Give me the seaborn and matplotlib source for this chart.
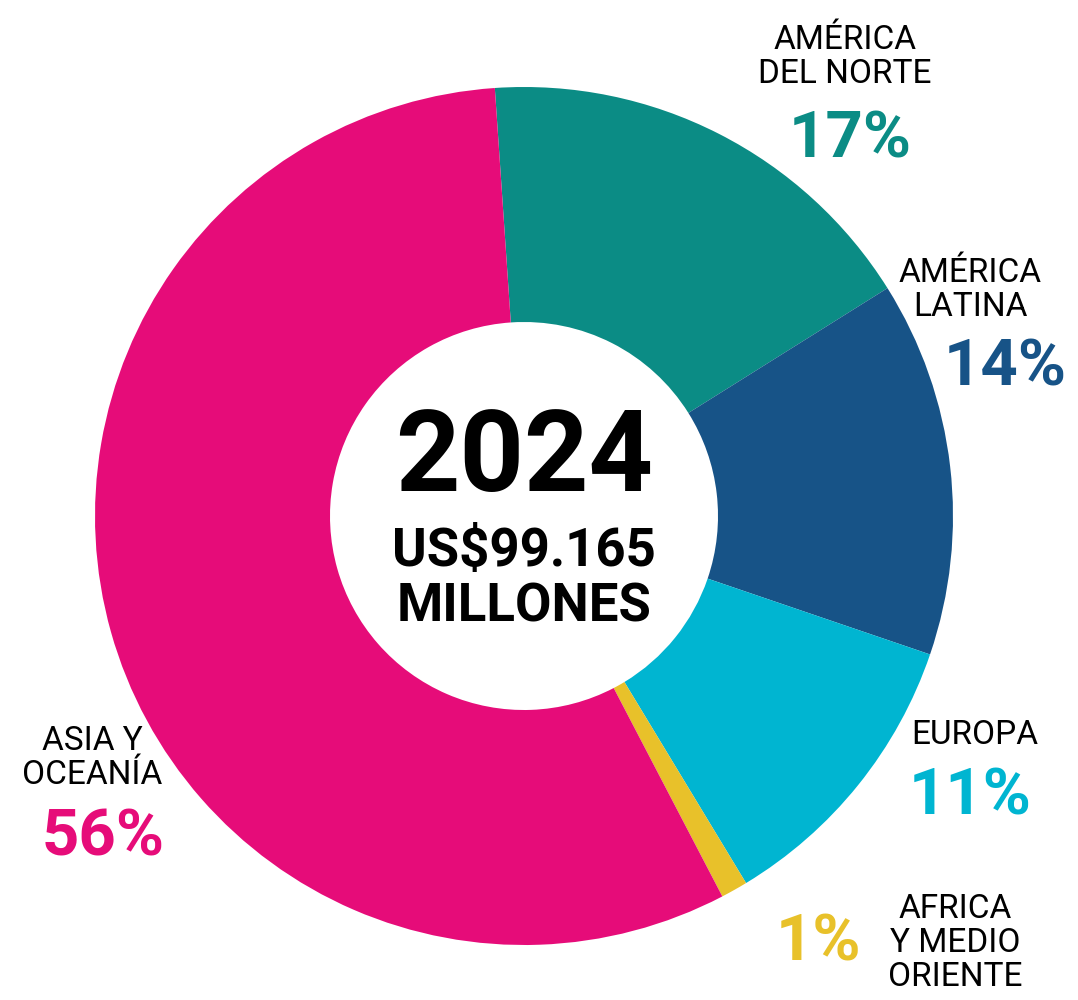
import matplotlib
matplotlib.use("Agg")
import matplotlib.pyplot as plt
import seaborn as sns

regions = ["AMÉRICA\nDEL NORTE", "AMÉRICA\nLATINA", "EUROPA", "AFRICA\nY MEDIO\nORIENTE", "ASIA Y\nOCEANÍA"]
shares = [17, 14, 11, 1, 56]
pct_labels = ["17%", "14%", "11%", "1%", "56%"]
colors = ["#0B8C85", "#175387", "#00B5D1", "#E8C12A", "#E60C79"]
year = "2024"
total_label = "US$99.165\nMILLONES"

sns.set_theme(style="white")
plt.rcParams['font.family'] = ['Roboto', 'DejaVu Sans']

fig = plt.figure(figsize=(10.78, 10), dpi=100)
ax = fig.add_axes([0, 0, 1, 1])

# pixel-like coordinates, y going up
cx, cy, r = 524, 484, 429
ax.pie(shares, colors=colors, startangle=93.9, counterclock=False,
       center=(cx, cy), radius=r,
       wedgeprops=dict(width=r - 194, linewidth=0))
ax.set_xlim(0, 1078)
ax.set_ylim(0, 1000)
ax.set_aspect('auto')
ax.axis('off')

# label positions
name_pos = [(845, 943), (970, 710), (975, 265), (955, 57), (92, 242)]
pct_pos = [(850, 860), (1005, 632), (970, 203), (818, 57), (103, 162)]
for name, pct, col, (nx, ny), (px, py) in zip(regions, pct_labels, colors, name_pos, pct_pos):
    ax.text(nx, ny, name, ha='center', va='center', fontsize=24,
            color='black', linespacing=1.1)
    ax.text(px, py, pct, ha='center', va='center', fontsize=47,
            fontweight='bold', color=col)

ax.text(cx, 540, year, ha='center', va='center', fontsize=81, fontweight='bold', color='black')
ax.text(cx, 421, total_label, ha='center', va='center', fontsize=38,
        fontweight='bold', color='black', linespacing=1.1)

fig.savefig("out.png", dpi=100)
